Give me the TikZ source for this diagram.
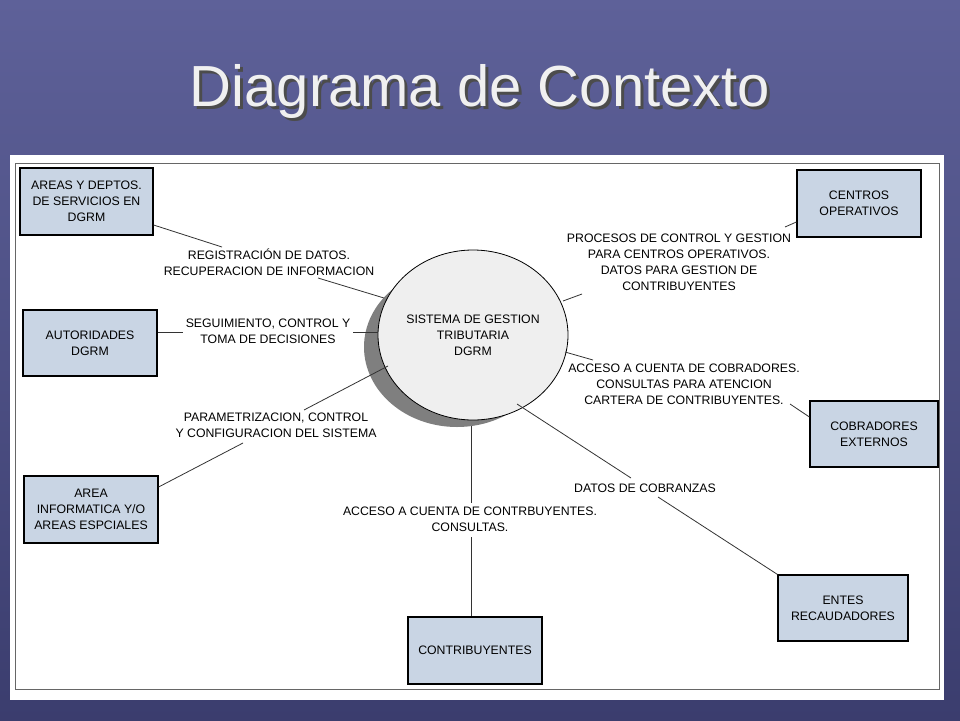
\documentclass[tikz,border=0pt]{standalone}
\usepackage{fontspec}
\setmainfont{Liberation Sans}
\usetikzlibrary{shapes.geometric}
\definecolor{bgA}{HTML}{5E6199}
\definecolor{bgB}{HTML}{3B3D6E}
\definecolor{boxc}{HTML}{C9D5E4}
\definecolor{ellc}{HTML}{EFEFEF}
\definecolor{shad}{HTML}{7F7F7F}
\begin{document}
\begin{tikzpicture}[x=1pt,y=-1pt,
  ent/.style={draw=black,line width=1.2pt,fill=boxc,align=center,font=\fontsize{12.3}{16}\selectfont,inner sep=0pt},
  lbl/.style={align=center,font=\fontsize{12.3}{16}\selectfont,inner sep=1pt},
  ln/.style={draw=black!80,line width=0.8pt}]
\useasboundingbox (0,0) rectangle (960,720);
\shade[top color=bgA,bottom color=bgB] (0,0) rectangle (960,720);
\node[font=\fontsize{58}{58}\selectfont,text=black!70] at (483,95) {Diagrama de Contexto};
\node[font=\fontsize{58}{58}\selectfont,text=white!94!black] (title) at (480,92) {Diagrama de Contexto};
\fill[white] (10,155) rectangle (944,700);
\draw[black!60,line width=0.8pt] (15,163) rectangle (939,689);
% process
\fill[shad] (457,347) ellipse [x radius=93,y radius=80];
\node[draw=black,line width=0.8pt,fill=ellc,ellipse,inner sep=0pt,minimum width=190pt,minimum height=170pt,align=center,font=\fontsize{12.3}{16}\selectfont] (P) at (473,335) {SISTEMA DE GESTION\\TRIBUTARIA\\DGRM};
% entities
\node[ent,minimum width=133pt,minimum height=67pt] (A) at (86.5,201.5) {AREAS Y DEPTOS.\\DE SERVICIOS EN\\DGRM};
\node[ent,minimum width=134pt,minimum height=66pt] (B) at (90,343) {AUTORIDADES\\DGRM};
\node[ent,minimum width=134pt,minimum height=67pt] (C) at (91,509.5) {AREA\\INFORMATICA Y/O\\AREAS ESPCIALES};
\node[ent,minimum width=124pt,minimum height=67pt] (D) at (859,203.5) {CENTROS\\OPERATIVOS};
\node[ent,minimum width=128pt,minimum height=66pt] (E) at (874,434) {COBRADORES\\EXTERNOS};
\node[ent,minimum width=130pt,minimum height=66pt] (F) at (843,608) {ENTES\\RECAUDADORES};
\node[ent,minimum width=134pt,minimum height=67pt] (G) at (475,650.5) {CONTRIBUYENTES};
% labels
\node[lbl] (la) at (269,262) {REGISTRACIÓN DE DATOS.\\RECUPERACION DE INFORMACION};
\node[lbl] (lb) at (268,331) {SEGUIMIENTO, CONTROL Y\\TOMA DE DECISIONES};
\node[lbl] (lc) at (276,425) {PARAMETRIZACION, CONTROL\\Y CONFIGURACION DEL SISTEMA};
\node[lbl] (ld) at (679,262) {PROCESOS DE CONTROL Y GESTION\\PARA CENTROS OPERATIVOS.\\DATOS PARA GESTION DE\\CONTRIBUYENTES};
\node[lbl] (le) at (684,384) {ACCESO A CUENTA DE COBRADORES.\\CONSULTAS PARA ATENCION\\CARTERA DE CONTRIBUYENTES.};
\node[lbl] (lf) at (645,488) {DATOS DE COBRANZAS};
\node[lbl] (lg) at (470,519) {ACCESO A CUENTA DE CONTRBUYENTES.\\CONSULTAS.};
% connectors
\coordinate (a1) at (222,247); \coordinate (a2) at (318,278); \coordinate (a3) at (384,298);
\draw[ln] (A.east|-0,225) -- (a1); \draw[ln] (a2) -- (a3);
\coordinate (b1) at (183,332); \coordinate (b2) at (353,332);
\draw[ln] (B.east|-0,332) -- (b1); \draw[ln] (b2) -- (P.west|-0,332);
\coordinate (c1) at (243,443); \coordinate (c2) at (304,410); \coordinate (c3) at (388,366);
\draw[ln] (C.east|-0,487) -- (c1); \draw[ln] (c2) -- (c3);
\coordinate (d1) at (785,227); \coordinate (d2) at (582,294); \coordinate (d3) at (563,301);
\draw[ln] (D.west|-0,222) -- (d1); \draw[ln] (d2) -- (d3);
\coordinate (e1) at (790,404); \coordinate (e2) at (593,360); \coordinate (e3) at (565,352);
\draw[ln] (E.west|-0,417) -- (e1); \draw[ln] (e2) -- (e3);
\coordinate (f1) at (631,478); \coordinate (f2) at (658,497); \coordinate (f3) at (517,404);
\draw[ln] (f3) -- (f1); \draw[ln] (f2) -- (F.north west);
\coordinate (g1) at (471,426); \coordinate (g2) at (471,503); \coordinate (g3) at (471,537);
\draw[ln] (g1) -- (g2); \draw[ln] (g3) -- (g3|-G.north);
\end{tikzpicture}
\end{document}
